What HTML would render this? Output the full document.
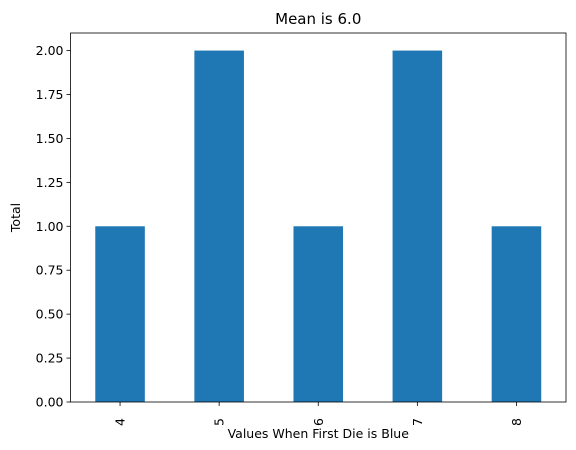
<!DOCTYPE html>
<html><head><meta charset="utf-8"><style>body{margin:0;background:#fff}svg{display:block;font-family:"DejaVu Sans","Liberation Sans",sans-serif}</style></head>
<body>
<svg id="chart" width="576" height="450"></svg>
<script>
const categories = ["4","5","6","7","8"];
const totals = [1,2,1,2,1];
const yTicks = [0,0.25,0.5,0.75,1.0,1.25,1.5,1.75,2.0];
const NS="http://www.w3.org/2000/svg";
const svg=document.getElementById('chart');
const L=70.5,R=566,T=33,B=402,yMax=2.1;
const x=i=>L+(i+0.5)*(R-L)/categories.length;
const y=v=>B-v/yMax*(B-T);
function mk(tag,attrs,text){const e=document.createElementNS(NS,tag);for(const k in attrs)e.setAttribute(k,attrs[k]);if(text!==undefined)e.textContent=text;svg.appendChild(e);return e;}
const bw=(R-L)/categories.length*0.5;
totals.forEach((v,i)=>{
  const r=mk('rect',{x:x(i)-bw/2,y:y(v),width:bw,height:B-y(v),fill:'#1f77b4'});
  
  
  const t=mk('line',{x1:x(i),x2:x(i),y1:B,y2:B+4,stroke:'#000','stroke-width':0.8});
  
  
  const lb=mk('text',{x:0,y:0,'font-size':12.5,'text-anchor':'middle',transform:`translate(${x(i)+4.5},${B+20}) rotate(-90)`},categories[i]);
  
  
});
yTicks.forEach(v=>{
  const t=mk('line',{x1:L-4,x2:L,y1:y(v),y2:y(v),stroke:'#000','stroke-width':0.8});
  
  
  const lb=mk('text',{x:L-7,y:y(v)+4.5,'font-size':12.5,'text-anchor':'end'},v.toFixed(2));
  
  
});
const fr=mk('rect',{x:L,y:T,width:R-L,height:B-T,fill:'none',stroke:'#000','stroke-width':0.8});


const ti=mk('text',{x:(L+R)/2,y:24,'font-size':15,'text-anchor':'middle'},'Mean is 6.0');


const xl=mk('text',{x:(L+R)/2,y:438,'font-size':12.5,'text-anchor':'middle'},'Values When First Die is Blue');


const yl=mk('text',{x:0,y:0,'font-size':12.5,'text-anchor':'middle',transform:`translate(20,${(T+B)/2}) rotate(-90)`},'Total');


</script>
</body></html>
